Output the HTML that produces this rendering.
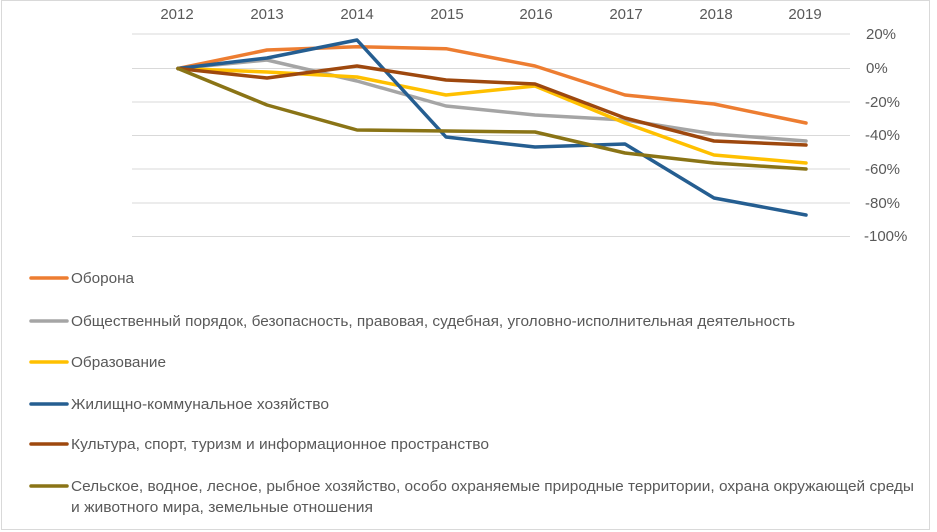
<!DOCTYPE html>
<html><head><meta charset="utf-8"><style>
html,body{margin:0;padding:0;background:#fff;}
svg{display:block;}
text{font-family:"Liberation Sans",sans-serif;fill:#595959;}
</style></head><body>
<svg width="937" height="532" viewBox="0 0 937 532" xmlns="http://www.w3.org/2000/svg">
<rect x="1.5" y="0.5" width="928" height="529" fill="#fff" stroke="#d9d9d9"/>
<g stroke="#d9d9d9" stroke-width="1">
<line x1="132" x2="850" y1="34" y2="34"/>
<line x1="132" x2="850" y1="68.5" y2="68.5"/>
<line x1="132" x2="850" y1="102" y2="102"/>
<line x1="132" x2="850" y1="135.5" y2="135.5"/>
<line x1="132" x2="850" y1="169" y2="169"/>
<line x1="132" x2="850" y1="203" y2="203"/>
<line x1="132" x2="850" y1="236.5" y2="236.5"/>
</g>
<g font-size="15" text-anchor="middle">
<text x="177" y="19">2012</text><text x="267" y="19">2013</text><text x="357" y="19">2014</text><text x="447" y="19">2015</text><text x="536" y="19">2016</text><text x="626" y="19">2017</text><text x="716" y="19">2018</text><text x="805" y="19">2019</text>
</g>
<g font-size="15" text-anchor="start">
<text x="866" y="39">20%</text><text x="866" y="73">0%</text><text x="865" y="107">-20%</text><text x="865" y="140">-40%</text><text x="865" y="174">-60%</text><text x="865" y="208">-80%</text><text x="864" y="241">-100%</text>
</g>
<g fill="none" stroke-width="3.5" stroke-linejoin="round" stroke-linecap="round">
<polyline stroke="#ED7D31" points="178,68.5 267,50 357,46.7 446,48.7 535,66 625,95 714,104 806,123"/>
<polyline stroke="#A5A5A5" points="178,68.5 267,60 357,81 446,106 535,115 625,120 714,134 806,141"/>
<polyline stroke="#FFC000" points="178,68.5 267,72 357,77 446,95 535,86 625,123 714,155 806,163"/>
<polyline stroke="#255E91" points="178,68.5 267,58 357,40 446,137 535,147 625,144 714,198 806,215"/>
<polyline stroke="#9E480E" points="178,68.5 267,78 357,66 446,80 535,84 625,118 714,141 806,145"/>
<polyline stroke="#8A7416" points="178,68.5 267,105 357,130 446,131 535,132 625,153 714,163 806,169"/>
</g>
<g stroke-width="3.5" stroke-linecap="round">
<line x1="31" x2="67" y1="278" y2="278" stroke="#ED7D31"/>
<line x1="31" x2="67" y1="321" y2="321" stroke="#A5A5A5"/>
<line x1="31" x2="67" y1="362" y2="362" stroke="#FFC000"/>
<line x1="31" x2="67" y1="404" y2="404" stroke="#255E91"/>
<line x1="31" x2="67" y1="444" y2="444" stroke="#9E480E"/>
<line x1="31" x2="67" y1="486" y2="486" stroke="#8A7416"/>
</g>
<g font-size="15">
<text x="71" y="283" textLength="63" lengthAdjust="spacingAndGlyphs">Оборона</text>
<text x="71" y="326" textLength="724" lengthAdjust="spacingAndGlyphs">Общественный порядок, безопасность, правовая, судебная,  уголовно-исполнительная деятельность</text>
<text x="71" y="367" textLength="95" lengthAdjust="spacingAndGlyphs">Образование</text>
<text x="71" y="409" textLength="258" lengthAdjust="spacingAndGlyphs">Жилищно-коммунальное хозяйство</text>
<text x="71" y="449" textLength="418" lengthAdjust="spacingAndGlyphs">Культура, спорт, туризм и информационное пространство</text>
<text x="71" y="491" textLength="843" lengthAdjust="spacingAndGlyphs">Сельское, водное, лесное, рыбное хозяйство, особо охраняемые природные территории, охрана окружающей среды</text>
<text x="71" y="512" textLength="302" lengthAdjust="spacingAndGlyphs">и животного мира, земельные отношения</text>
</g>
</svg>
</body></html>
